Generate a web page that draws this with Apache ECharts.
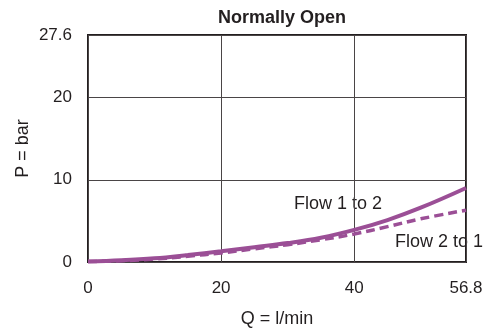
<!DOCTYPE html>
<html>
<head>
	<meta charset="UTF-8">
	<title>Normally Open</title>
	<script src="https://cdn.jsdelivr.net/npm/echarts@6/dist/echarts.min.js"></script>
	<style>
		body { margin: 0; background: #fff; }
		#chart { width: 494px; height: 333px; }
	</style>
</head>
<body>
<div id="chart"></div>
<script type="text/javascript">
var flow = [0, 5, 10, 15, 20, 25, 30, 35, 40, 45, 50, 56.8];
var flow12 = [0.05, 0.2, 0.45, 0.85, 1.3, 1.8, 2.3, 2.95, 3.9, 5.1, 6.6, 9.0];
var flow21 = [0.05, 0.15, 0.35, 0.7, 1.1, 1.6, 2.1, 2.7, 3.4, 4.3, 5.25, 6.3];
var xMax = 56.8;
var yMax = 27.6;

var ink = '#231f20';
var purple = '#9b4f96';
var font = '"Liberation Sans", Arial, sans-serif';

function pairs(ys) {
	var out = [];
	for (var i = 0; i < flow.length; i++) out.push([flow[i], ys[i]]);
	return out;
}

var chart = echarts.init(document.getElementById('chart'));
var option = {
	animation: false,
	title: {
		text: 'Normally Open',
		left: 277, top: 4, textAlign: 'center',
		textStyle: { fontFamily: font, fontSize: 18, fontWeight: 'bold', color: ink }
	},
	grid: { left: 88, right: 28, top: 35, bottom: 71, show: true, borderColor: ink, borderWidth: 2 },
	xAxis: {
		type: 'value', min: 0, max: xMax, interval: 20,
		name: 'Q = l/min', nameLocation: 'middle', nameGap: 48,
		nameTextStyle: { fontFamily: font, fontSize: 18, color: ink },
		axisLine: { show: false }, axisTick: { show: false },
		axisLabel: { fontFamily: font, fontSize: 17, color: ink, margin: 18, showMaxLabel: true },
		splitLine: { lineStyle: { color: '#4a4546', width: 1 } }
	},
	yAxis: {
		type: 'value', min: 0, max: yMax, interval: 10,
		name: 'P = bar', nameLocation: 'middle', nameGap: 56, nameMoveOverlap: false,
		nameTextStyle: { fontFamily: font, fontSize: 18, color: ink },
		axisLine: { show: false }, axisTick: { show: false },
		axisLabel: { fontFamily: font, fontSize: 17, color: ink, margin: 16, showMaxLabel: true },
		splitLine: { lineStyle: { color: '#4a4546', width: 1 } }
	},
	graphic: [
		{ type: 'text', left: 294, top: 195, style: { text: 'Flow 1 to 2', font: '18px ' + font, fill: ink } },
		{ type: 'text', left: 395, top: 233, style: { text: 'Flow 2 to 1', font: '18px ' + font, fill: ink } }
	],
	series: [
		{
			name: 'Flow 1 to 2', type: 'line', data: pairs(flow12),
			smooth: 0.4, symbol: 'none',
			lineStyle: { color: purple, width: 4 }
		},
		{
			name: 'Flow 2 to 1', type: 'line', data: pairs(flow21),
			smooth: 0.4, symbol: 'none',
			lineStyle: { color: purple, width: 3.5, type: [9, 5] }
		}
	]
};
chart.setOption(option);
</script>
</body>
</html>
